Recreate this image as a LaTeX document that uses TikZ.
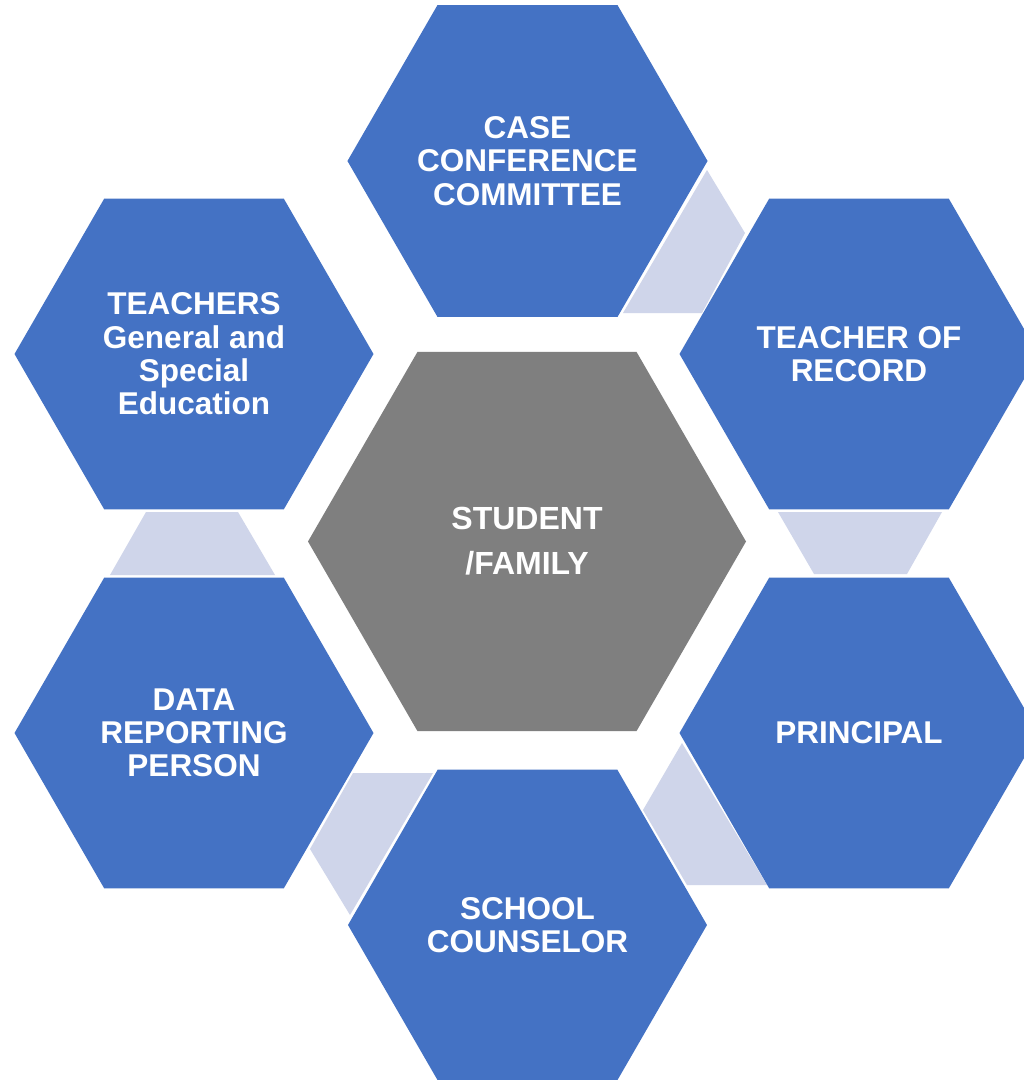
\documentclass[tikz,border=0pt]{standalone}
\usepackage{fontspec}
\setmainfont{Liberation Sans}
\usetikzlibrary{shapes.geometric}
\definecolor{hexblue}{HTML}{4472C4}
\definecolor{hexgray}{HTML}{7F7F7F}
\definecolor{linkfill}{HTML}{CFD5EA}
\tikzset{
  hexbox/.style={regular polygon, regular polygon sides=6, minimum size=359pt,
    inner sep=0pt, fill=hexblue, draw=none, text=white, align=center,
    font=\fontsize{31.5}{33.3}\selectfont\bfseries},
  hexcore/.style={hexbox, minimum size=438pt, fill=hexgray,
    font=\fontsize{32}{45}\selectfont\bfseries},
  linkpiece/.style={fill=linkfill, draw=none}
}
\begin{document}
\begin{tikzpicture}[x=1pt,y=-1pt]
  \useasboundingbox (0,0) rectangle (1024,1080);
  \fill[white] (0,0) rectangle (1024,1080);

  % light link pieces between neighbouring hexagons
  \fill[linkpiece] (707,170) -- (745,233) -- (702,313) -- (623,313) -- cycle;
  \fill[linkpiece] (778,512) -- (942,512) -- (907,574) -- (814,574) -- cycle;
  \fill[linkpiece] (682,743) -- (643,810) -- (687,885) -- (767,885) -- cycle;
  \fill[linkpiece] (353,773) -- (433,773) -- (350,915) -- (310,849) -- cycle;
  \fill[linkpiece] (146,512) -- (238,512) -- (275,575) -- (110,575) -- cycle;

  % central hexagon
  \node[hexcore] (core) at (527,541.5) {STUDENT\\/FAMILY};

  % surrounding hexagons
  \node[hexbox] (ccc) at (527.5,161) {CASE\\CONFERENCE\\COMMITTEE};
  \node[hexbox] (tor) at (859,354) {TEACHER OF\\RECORD};
  \node[hexbox] (prin) at (859,733) {PRINCIPAL};
  \node[hexbox] (couns) at (527.5,925) {SCHOOL\\COUNSELOR};
  \node[hexbox] (data) at (194,733) {DATA\\REPORTING\\PERSON};
  \node[hexbox] (teach) at (194,354) {TEACHERS\\General and\\Special\\Education};
\end{tikzpicture}
\end{document}
